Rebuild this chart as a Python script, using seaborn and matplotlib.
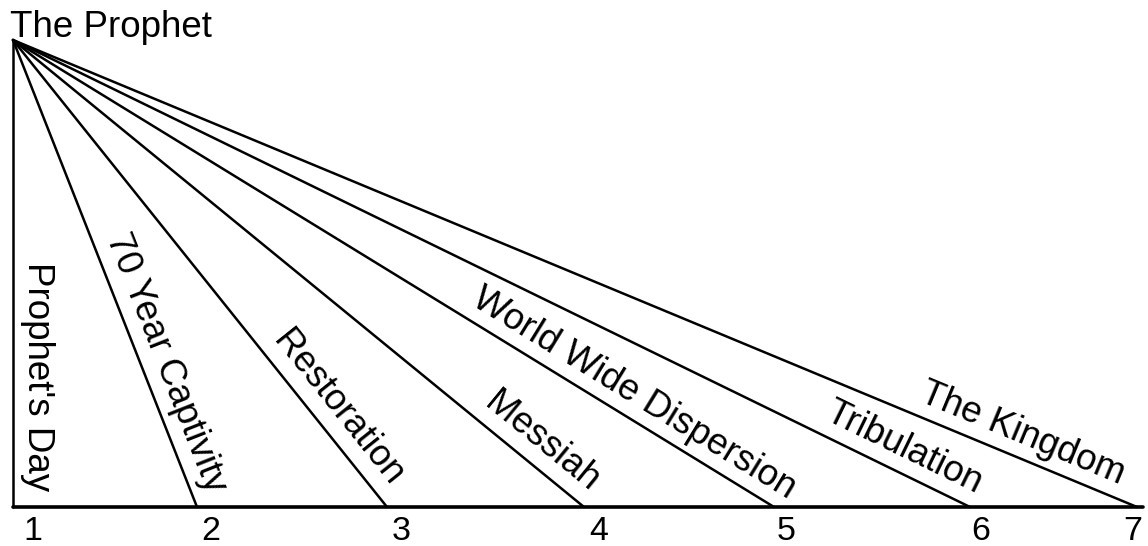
import numpy as np
import pandas as pd
import matplotlib
matplotlib.use("Agg")
import matplotlib.pyplot as plt
import seaborn as sns

# ---- data ----
phases = ["Prophet's Day", "70 Year Captivity", "Restoration", "Messiah",
          "World Wide Dispersion", "Tribulation", "The Kingdom"]
phase_numbers = ["1", "2", "3", "4", "5", "6", "7"]
# distance of each phase along the time line from the prophet's day
phase_distance = [0, 184, 374, 571, 761, 957, 1124]
# height of the prophet's viewpoint above the time line
prophet_height = 467
title = "The Prophet"

# ---- layout / style (not data) ----
label_frac = [0.72, 0.71, 0.82, 0.90, 0.80, 0.92, 0.89]
label_offset = 24
number_dx = [20, 14, 14, 15, 12, 11, -4]
number_dy = -24
font_size = 26.5
number_size = 24.5

sns.set_theme(style="white")
plt.rcParams['font.family'] = ['Liberation Sans', 'DejaVu Sans']

W, H = 1148, 546
fig = plt.figure(figsize=(W / 100, H / 100), dpi=100)
ax = fig.add_axes([13 / W, 39 / H, 1124 / W, 467 / H])
ax.set_xlim(0, max(phase_distance))
ax.set_ylim(0, prophet_height)
ax.axis("off")

rows = []
for p, d in zip(phases, phase_distance):
    rows.append({"phase": p, "x": 0, "y": prophet_height})
    rows.append({"phase": p, "x": d, "y": 0})
df = pd.DataFrame(rows)

sns.lineplot(data=df, x="x", y="y", units="phase", estimator=None, sort=False,
             color="black", linewidth=1.8, ax=ax, legend=False, clip_on=False)

# time line (baseline)
base = pd.DataFrame({"x": [0, max(phase_distance) + 6], "y": [0, 0]})
sns.lineplot(data=base, x="x", y="y", color="black", linewidth=2.6,
             ax=ax, legend=False, clip_on=False)

for i, (p, d) in enumerate(zip(phases, phase_distance)):
    L = np.hypot(d, prophet_height)
    t = label_frac[i]
    nx, ny = prophet_height / L, d / L
    cx = t * d + label_offset * nx
    cy = prophet_height * (1 - t) + label_offset * ny
    rot = -np.degrees(np.arctan2(prophet_height, d))
    ax.text(cx, cy, p, rotation=rot, rotation_mode="anchor",
            ha="center", va="center", fontsize=font_size, color="black",
            clip_on=False)
    ax.text(d + number_dx[i], number_dy, phase_numbers[i], ha="center",
            va="center", fontsize=number_size, color="black", clip_on=False)

ax.text(-3, prophet_height + 3, title, ha="left", va="baseline",
        fontsize=font_size, color="black", clip_on=False)

fig.savefig("out.png", dpi=100, facecolor="white")
